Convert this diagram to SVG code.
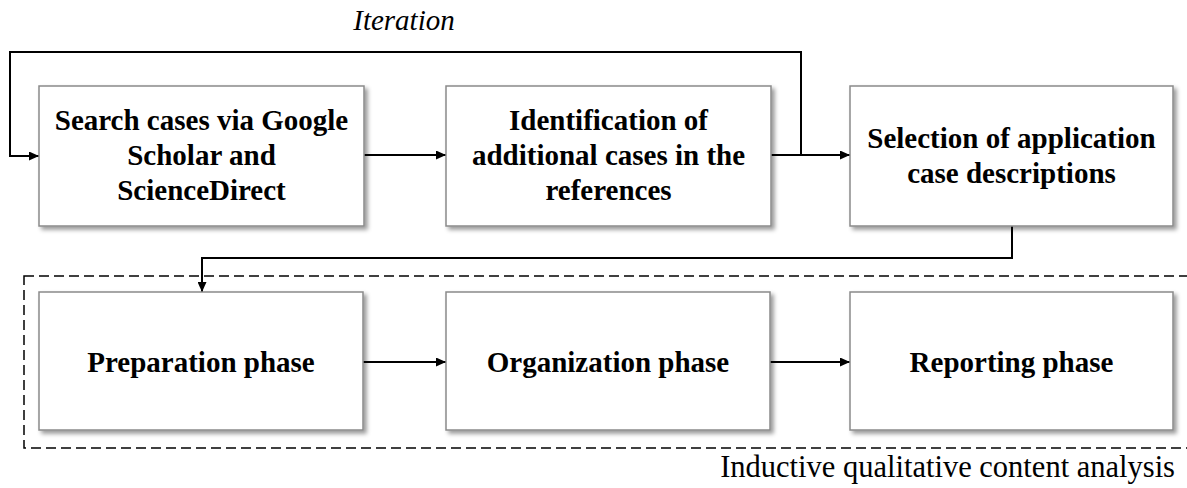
<svg xmlns="http://www.w3.org/2000/svg" width="1187" height="488" viewBox="0 0 1187 488">
<style>
.box{fill:#fff;stroke:#8a8a8a;stroke-width:1.5;filter:url(#sh)}
.lbl{font-family:'Liberation Serif','Times New Roman',Times,'DejaVu Serif',serif;font-weight:bold;font-size:29px;fill:#000;text-anchor:middle}
.con{fill:none;stroke:#000;stroke-width:2}
.cap{font-family:'Liberation Serif','Times New Roman',Times,'DejaVu Serif',serif;font-size:29px;fill:#000}
</style>
<defs>
<filter id="sh" x="-10%" y="-10%" width="120%" height="130%">
<feDropShadow dx="3" dy="3" stdDeviation="2" flood-color="#000" flood-opacity="0.4"/>
</filter>
<marker id="ah" markerUnits="userSpaceOnUse" markerWidth="11" markerHeight="9" refX="10" refY="4.5" orient="auto">
<path d="M0,0 L10,4.5 L0,9 z" fill="#000"/>
</marker>
</defs>
<rect x="24" y="276" width="1220" height="172" fill="none" stroke="#000" stroke-width="1.5" stroke-dasharray="10,5"/>
<text class="cap" x="404" y="30" text-anchor="middle" font-style="italic">Iteration</text>
<text class="cap" x="1175" y="477" text-anchor="end" style="font-size:30.5px">Inductive qualitative content analysis</text>
<g id="connectors">
<path class="con" d="M801 155 V52 H10 V156 H39" marker-end="url(#ah)"/>
<path class="con" d="M364 155 H446" marker-end="url(#ah)"/>
<path class="con" d="M771 155 H850" marker-end="url(#ah)"/>
<path class="con" d="M1012 226 V258 H202 V292" marker-end="url(#ah)"/>
<path class="con" d="M363 362 H446" marker-end="url(#ah)"/>
<path class="con" d="M770 362 H850" marker-end="url(#ah)"/>
</g>
<g id="n1">
<rect class="box" x="39" y="86" width="325" height="140"/>
<text class="lbl" x="201.5" y="130">Search cases via Google</text>
<text class="lbl" x="201.5" y="165">Scholar and</text>
<text class="lbl" x="201.5" y="200">ScienceDirect</text>
</g>
<g id="n2">
<rect class="box" x="446" y="86" width="325" height="140"/>
<text class="lbl" x="608.5" y="130">Identification of</text>
<text class="lbl" x="608.5" y="165">additional cases in the</text>
<text class="lbl" x="608.5" y="200">references</text>
</g>
<g id="n3">
<rect class="box" x="850" y="86" width="323" height="140"/>
<text class="lbl" x="1011.5" y="148">Selection of application</text>
<text class="lbl" x="1011.5" y="183">case descriptions</text>
</g>
<g id="n4">
<rect class="box" x="39" y="292" width="324" height="138"/>
<text class="lbl" x="201" y="372">Preparation phase</text>
</g>
<g id="n5">
<rect class="box" x="446" y="292" width="324" height="138"/>
<text class="lbl" x="608" y="372">Organization phase</text>
</g>
<g id="n6">
<rect class="box" x="850" y="292" width="323" height="138"/>
<text class="lbl" x="1011.5" y="372">Reporting phase</text>
</g>
</svg>
